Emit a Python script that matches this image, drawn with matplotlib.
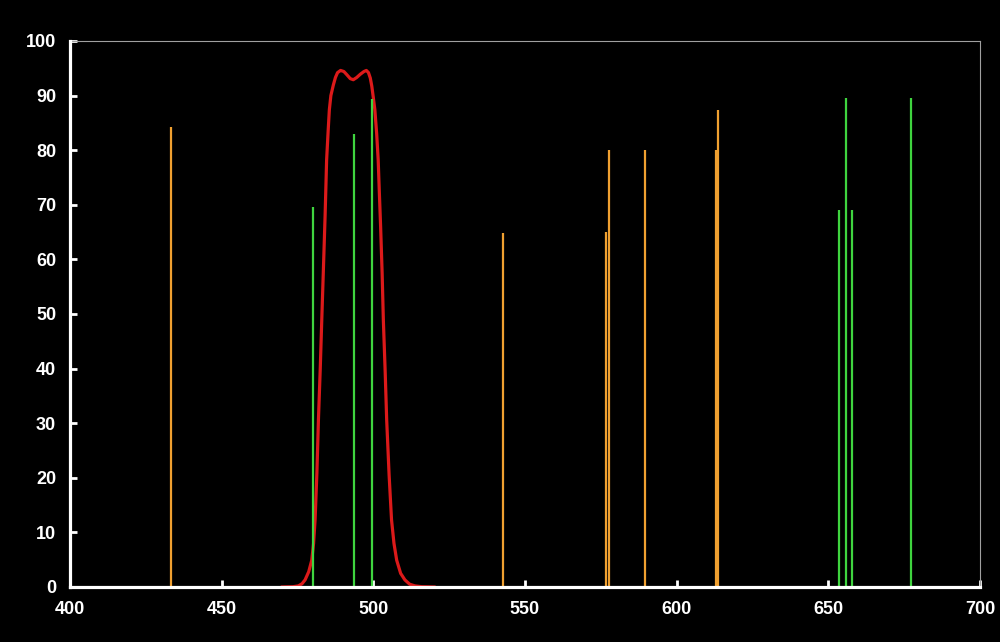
import matplotlib
matplotlib.use("Agg")
import matplotlib.pyplot as plt

# filter transmission curve (nm, %)
filter_nm = [470.0, 473.5, 475.3, 476.5, 477.5, 478.7, 479.7, 480.3, 480.8, 481.4,
             481.9, 482.5, 483.0, 483.5, 484.1, 484.6, 485.1, 485.5, 486.0, 486.8,
             487.5, 488.2, 489.2, 490.3, 491.3, 492.4, 493.4, 494.5, 495.7, 496.9,
             497.7, 498.4, 499.0, 499.5, 500.0, 500.5, 501.1, 501.6, 502.0, 502.4,
             502.9, 503.3, 503.9, 504.4, 505.2, 506.0, 506.8, 507.7, 509.0, 510.4,
             512.0, 513.7, 516.0, 520.0]
filter_pct = [0.0, 0.05, 0.2, 0.6, 1.3, 2.8, 4.9, 8.0, 12.3, 21.0,
              30.6, 40.0, 48.9, 57.5, 68.0, 78.2, 83.5, 87.4, 90.0, 91.9,
              93.3, 94.2, 94.6, 94.4, 93.8, 93.1, 92.9, 93.3, 93.9, 94.4,
              94.6, 94.2, 93.2, 91.7, 89.6, 87.4, 83.0, 78.2, 72.0, 66.0,
              57.5, 48.9, 39.5, 30.6, 20.5, 12.3, 8.0, 4.9, 2.5, 1.3,
              0.5, 0.2, 0.05, 0.0]

# emission lines
orange_nm = [433.3, 542.8, 576.7, 577.7, 589.6, 613.0, 613.6]
orange_pct = [84.2, 64.8, 65.0, 80.0, 80.0, 80.0, 87.4]

green_nm = [480.1, 493.6, 499.6, 653.5, 655.9, 657.8, 677.3]
green_pct = [69.6, 83.0, 89.4, 69.0, 89.6, 69.0, 89.6]

fig = plt.figure(figsize=(10, 6.42), dpi=100, facecolor="black")
ax = fig.add_axes([0.07, 0.0857, 0.91, 0.8505])
ax.set_facecolor("black")

ax.plot(filter_nm, filter_pct, color="#dc1a1a", lw=2.3, zorder=2,
        solid_joinstyle="round")
ax.vlines(orange_nm, 0, orange_pct, color="#f0a030", lw=1.6, zorder=3)
ax.vlines(green_nm, 0, green_pct, color="#3fd43f", lw=1.6, zorder=3)

ax.set_xlim(400, 700)
ax.set_ylim(0, 100)
ax.set_xticks(range(400, 701, 50))
ax.set_yticks(range(0, 101, 10))

for s in ["left", "bottom"]:
    ax.spines[s].set_color("white")
    ax.spines[s].set_linewidth(2.3)
for s in ["top", "right"]:
    ax.spines[s].set_color("#a0a0a0")
    ax.spines[s].set_linewidth(0.8)
ax.spines["left"].set_zorder(4)
ax.spines["bottom"].set_zorder(4)

ax.tick_params(direction="in", length=5, width=2, color="white", pad=10,
               labelcolor="white", labelsize=13)
for lab in ax.get_xticklabels() + ax.get_yticklabels():
    lab.set_fontfamily("Liberation Sans")
    lab.set_fontweight("bold")

fig.savefig("out.png", dpi=100, facecolor="black")
